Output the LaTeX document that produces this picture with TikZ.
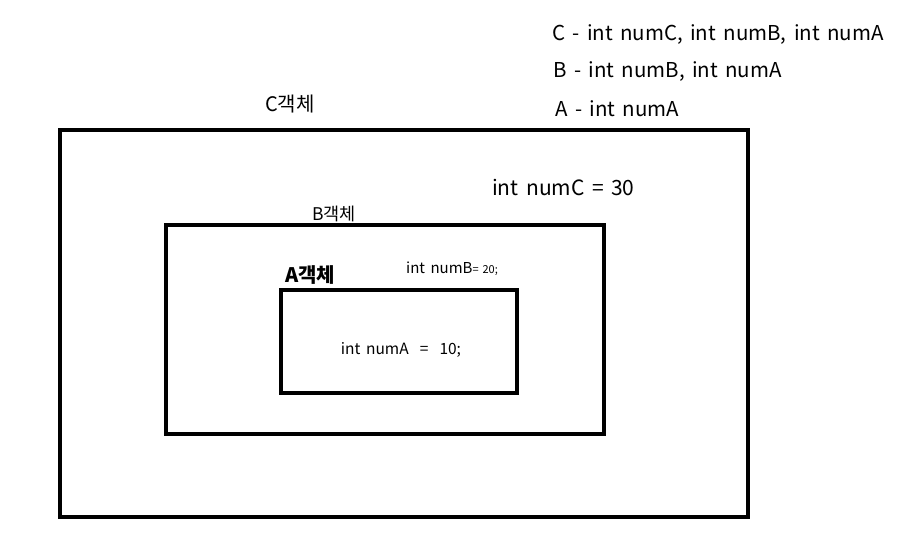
\documentclass[tikz,border=0pt]{standalone}
\usepackage{fontspec}
\setmainfont{Noto Sans CJK KR}[WordSpace=1.6]
\usetikzlibrary{positioning}
\tikzstyle{obj} = [draw, rectangle, line width=3.5pt, inner sep=0pt]
\tikzstyle{txt} = [inner sep=0pt, anchor=west]
\tikzstyle{lbl} = [inner sep=0pt]

\begin{document}
\begin{tikzpicture}[x=1pt, y=-1pt]
	\useasboundingbox (0,0) rectangle (914,552);
	% objects
	\node (C) [obj, minimum width=688pt, minimum height=387pt] at (404,323.5) {};
	\node (B) [obj, minimum width=438pt, minimum height=209pt] at (385,329.5) {};
	\node (A) [obj, minimum width=236pt, minimum height=103pt] at (399,341.5) {};
	% object names
	\node (Cname) [lbl, font=\fontsize{20}{24}\selectfont] at (290,104) {C객체};
	\node (Bname) [lbl, font=\fontsize{17.5}{21}\selectfont] at (334,214) {B객체};
	\node (Aname) [lbl, font=\bfseries\fontsize{20}{24}\selectfont] at (310,275) {A객체};
	% fields
	\node (numC) [txt, font=\fontsize{21}{25}\selectfont] at (492,187) {int numC = 30};
	\node (numB) [txt, font=\fontsize{15}{18}\selectfont] at (406,269) {int numB{\fontsize{11}{13}\selectfont= 20;}};
	\node (numA) [lbl, font=\fontsize{15.5}{18}\selectfont] at (401,350) {int numA \ = \ 10;};
	% members
	\node (memC) [txt, font=\fontsize{20.5}{24}\selectfont] at (552,35) {C - int numC, int numB, int numA};
	\node (memB) [txt, font=\fontsize{20.5}{24}\selectfont] at (553,72) {B - int numB, int numA};
	\node (memA) [txt, font=\fontsize{20.5}{24}\selectfont] at (555,109) {A - int numA};
\end{tikzpicture}
\end{document}
